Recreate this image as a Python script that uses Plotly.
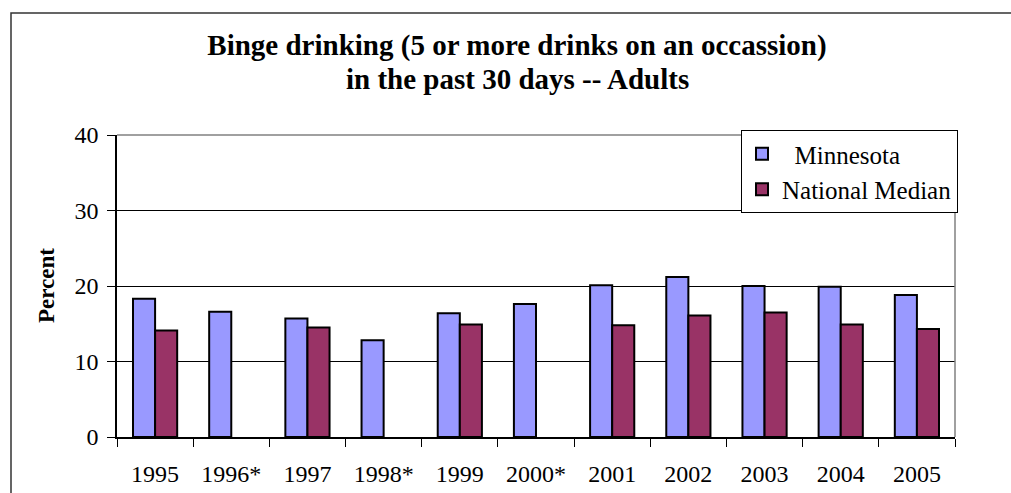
import plotly.graph_objects as go

years = ["1995", "1996*", "1997", "1998*", "1999", "2000*", "2001", "2002", "2003", "2004", "2005"]
minnesota = [18.3, 16.6, 15.7, 12.8, 16.4, 17.6, 20.1, 21.2, 20.0, 19.9, 18.8]
national_median = [14.1, None, 14.5, None, 14.9, None, 14.8, 16.1, 16.5, 14.9, 14.3]
y_ticks = [0, 10, 20, 30, 40]
title_line1 = "Binge drinking (5 or more drinks on an occassion)"
title_line2 = "in the past 30 days -- Adults"

W, H = 1011, 493
L, R, T, B = 117, 56, 135, 56
pw = W - L - R
ph = H - T - B

def px_x(p):
    return (p - L) / pw

def px_y(p):
    return (H - B - p) / ph

FONT = "Liberation Serif"

fig = go.Figure()
fig.add_trace(go.Bar(
    x=years, y=minnesota, name="\u00a0\u00a0Minnesota",
    marker=dict(color="#9999FF", line=dict(color="black", width=2)),
))
fig.add_trace(go.Bar(
    x=years, y=national_median, name="National Median",
    marker=dict(color="#993366", line=dict(color="black", width=2)),
))

fig.update_layout(
    width=W, height=H,
    margin=dict(l=L, r=R, t=T, b=B, pad=0, autoexpand=False),
    paper_bgcolor="white", plot_bgcolor="white",
    barmode="group", bargap=0.42, bargroupgap=0,
    font=dict(family=FONT, color="black", size=23),
    showlegend=True,
    legend=dict(
        x=px_x(958), xanchor="right", y=px_y(130), yanchor="top",
        bgcolor="white", bordercolor="black", borderwidth=1,
        font=dict(family=FONT, size=25, color="black"),
        traceorder="normal",
    ),
    title=dict(
        text="<b>" + title_line1 + "</b>",
        x=px_x(517), xref="paper", xanchor="center",
        y=1 - 45 / H, yref="container", yanchor="middle",
        font=dict(family=FONT, size=29, color="black"),
    ),
    xaxis=dict(
        type="category", categoryorder="array", categoryarray=years,
        showline=True, linecolor="black", linewidth=1.5,
        ticks="outside", tickson="boundaries", ticklen=8, tickcolor="black", tickwidth=1,
        showgrid=False, tickfont=dict(size=24, family=FONT),
        ticklabelstandoff=14, automargin=False,
    ),
    yaxis=dict(
        range=[0, 40], tickvals=y_ticks, ticktext=[str(v) for v in y_ticks],
        showline=True, linecolor="black", linewidth=1.5,
        ticks="outside", ticklen=8, tickcolor="black", tickwidth=1,
        showgrid=True, gridcolor="black", gridwidth=1,
        zeroline=False, tickfont=dict(size=24, family=FONT),
        ticklabelstandoff=4, automargin=False,
    ),
    annotations=[
        dict(
            text="<b>" + title_line2 + "</b>",
            xref="paper", yref="paper", x=px_x(517), y=px_y(79),
            xanchor="center", yanchor="middle", showarrow=False,
            font=dict(family=FONT, size=29, color="black"),
        ),
        dict(
            text="<b>Percent</b>", textangle=-90,
            xref="paper", yref="paper", x=px_x(46), y=px_y(286),
            xanchor="center", yanchor="middle", showarrow=False,
            font=dict(family=FONT, size=23, color="black"),
        ),
    ],
    shapes=[
        dict(type="line", xref="paper", yref="paper", x0=0, x1=1, y0=1, y1=1,
             line=dict(color="#808080", width=1.5)),
        dict(type="line", xref="paper", yref="paper", x0=1, x1=1, y0=0, y1=1,
             line=dict(color="#808080", width=1.5)),
        dict(type="rect", xref="paper", yref="paper",
             x0=px_x(11), x1=px_x(1100), y0=px_y(600), y1=px_y(13),
             line=dict(color="#333333", width=1.5), layer="below"),
    ],
)

fig.write_html(
    "out.html",
    config={"displayModeBar": False},
    post_script="document.body.style.margin='0';document.body.style.overflow='hidden';",
)
